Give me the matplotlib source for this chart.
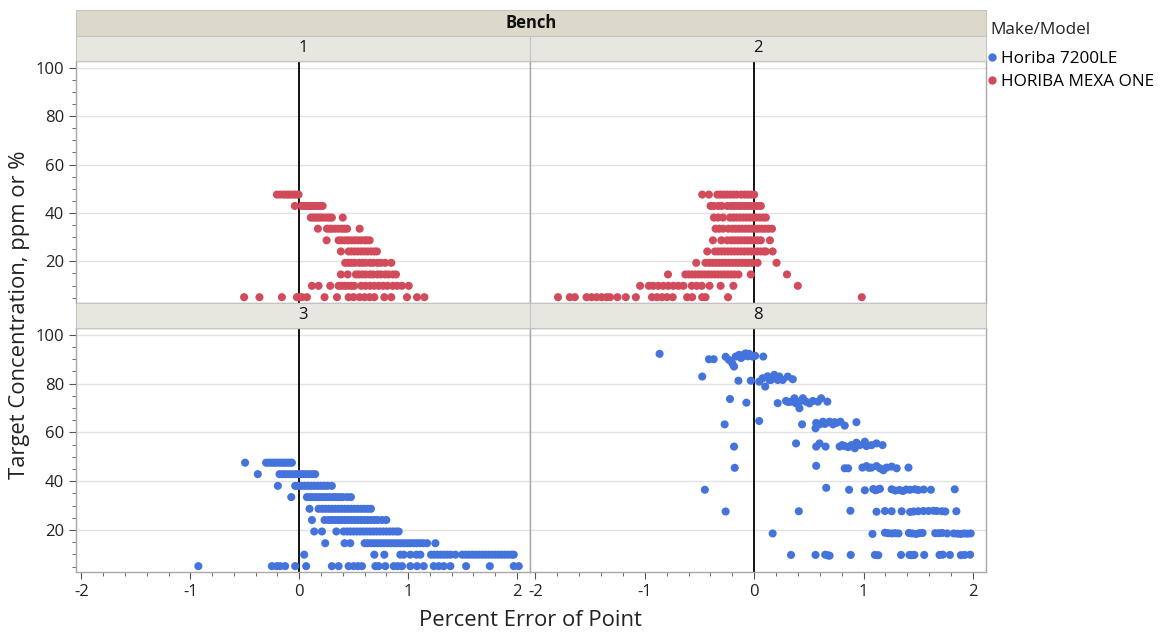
import matplotlib
matplotlib.use('Agg')
import matplotlib.pyplot as plt
from matplotlib.patches import Rectangle
from matplotlib.lines import Line2D
from matplotlib.ticker import MultipleLocator

plt.rcParams['font.family'] = ['Open Sans', 'DejaVu Sans']
plt.rcParams['axes.unicode_minus'] = False

blue = '#4573dc'
red = '#d24b5a'
models = ['Horiba 7200LE', 'HORIBA MEXA ONE']

# target levels used on benches 1, 2 and 3 (bottom to top)
levels = [5.2, 9.9, 14.6, 19.4, 24.1, 28.7, 33.5, 38.1, 42.9, 47.6]

# percent error of point, one list per target level
bench1_x = [
    [-0.506, -0.365, -0.159, -0.021, 0.0, 0.025, 0.071, 0.233, 0.347, 0.454, 0.5, 0.555, 0.601, 0.647, 0.69, 0.782, 0.846, 0.99, 1.082, 1.15],
    [0.117, 0.178, 0.285, 0.362, 0.39, 0.42, 0.45, 0.48, 0.506, 0.57, 0.61, 0.65, 0.69, 0.73, 0.77, 0.81, 0.86, 0.9, 0.944, 1.006],
    [0.383, 0.445, 0.521, 0.55, 0.58, 0.61, 0.65, 0.68, 0.72, 0.75, 0.79, 0.82, 0.86, 0.889],
    [0.423, 0.45, 0.48, 0.51, 0.55, 0.58, 0.61, 0.65, 0.68, 0.72, 0.75, 0.79, 0.846],
    [0.383, 0.454, 0.48, 0.51, 0.54, 0.57, 0.6, 0.63, 0.66, 0.69, 0.714],
    [0.252, 0.362, 0.39, 0.42, 0.45, 0.48, 0.51, 0.54, 0.57, 0.6, 0.62, 0.647],
    [0.172, 0.255, 0.28, 0.3, 0.33, 0.36, 0.39, 0.415, 0.44, 0.555],
    [0.107, 0.13, 0.15, 0.17, 0.19, 0.21, 0.235, 0.26, 0.28, 0.3, 0.4],
    [-0.04, 0.025, 0.05, 0.07, 0.09, 0.11, 0.13, 0.15, 0.17, 0.19, 0.215],
    [-0.205, -0.175, -0.144, -0.12, -0.098, -0.077, -0.052, -0.031, -0.006],
]

bench2_x = [
    [-1.794, -1.686, -1.64, -1.533, -1.487, -1.441, -1.395, -1.349, -1.318, -1.251, -1.174, -1.082, -0.935, -0.889, -0.843, -0.797, -0.745, -0.613, -0.567, -0.475, -0.445, -0.239, 0.984],
    [-1.043, -0.963, -0.923, -0.877, -0.831, -0.785, -0.739, -0.693, -0.647, -0.571, -0.525, -0.479, -0.408, -0.307, -0.19, 0.399],
    [-0.788, -0.629, -0.6, -0.57, -0.54, -0.51, -0.48, -0.45, -0.42, -0.39, -0.36, -0.33, -0.3, -0.27, -0.24, -0.21, -0.18, -0.144, -0.031, 0.3],
    [-0.53, -0.445, -0.41, -0.38, -0.35, -0.32, -0.29, -0.26, -0.23, -0.2, -0.17, -0.14, -0.11, -0.08, -0.05, -0.021, 0.031, 0.205],
    [-0.429, -0.359, -0.33, -0.3, -0.27, -0.24, -0.21, -0.18, -0.15, -0.12, -0.09, -0.06, -0.03, 0.0, 0.03, 0.06, 0.09, 0.107, 0.169],
    [-0.377, -0.3, -0.245, -0.21, -0.18, -0.15, -0.12, -0.09, -0.06, -0.03, 0.0, 0.03, 0.061, 0.144],
    [-0.353, -0.32, -0.285, -0.236, -0.2, -0.17, -0.14, -0.11, -0.08, -0.05, -0.02, 0.01, 0.04, 0.07, 0.1, 0.13, 0.163],
    [-0.368, -0.33, -0.285, -0.221, -0.19, -0.16, -0.13, -0.1, -0.07, -0.04, -0.01, 0.02, 0.05, 0.08, 0.107],
    [-0.399, -0.37, -0.33, -0.297, -0.245, -0.21, -0.18, -0.15, -0.12, -0.09, -0.06, -0.03, 0.0, 0.03, 0.061],
    [-0.475, -0.414, -0.337, -0.31, -0.28, -0.25, -0.22, -0.19, -0.16, -0.12, -0.09, -0.06, -0.03, 0.0],
]

bench3_x = [
    [-0.926, -0.251, -0.205, -0.175, -0.129, -0.037, 0.064, 0.3, 0.362, 0.454, 0.5, 0.54, 0.577, 0.7, 0.73, 0.791, 0.868, 0.905, 0.945, 1.021, 1.083, 1.144, 1.236, 1.282, 1.328, 1.389, 1.533, 1.751, 1.971, 2.017],
    [0.046, 0.69, 0.782, 0.929, 0.96, 1.021, 1.076, 1.113, 1.211, 1.24, 1.27, 1.3, 1.33, 1.36, 1.39, 1.435, 1.497, 1.53, 1.56, 1.59, 1.62, 1.65, 1.68, 1.71, 1.74, 1.77, 1.8, 1.83, 1.86, 1.89, 1.92, 1.95, 1.971],
    [0.239, 0.417, 0.469, 0.601, 0.63, 0.66, 0.69, 0.72, 0.75, 0.78, 0.81, 0.84, 0.87, 0.9, 0.93, 0.96, 0.99, 1.02, 1.05, 1.08, 1.11, 1.14, 1.175, 1.251],
    [0.138, 0.209, 0.341, 0.408, 0.44, 0.47, 0.5, 0.53, 0.56, 0.59, 0.62, 0.65, 0.68, 0.71, 0.74, 0.77, 0.8, 0.83, 0.86, 0.89, 0.914],
    [0.117, 0.233, 0.27, 0.3, 0.33, 0.36, 0.39, 0.42, 0.45, 0.48, 0.51, 0.54, 0.57, 0.6, 0.63, 0.66, 0.69, 0.72, 0.761, 0.8],
    [0.095, 0.178, 0.21, 0.24, 0.27, 0.3, 0.33, 0.36, 0.39, 0.42, 0.45, 0.48, 0.51, 0.54, 0.57, 0.6, 0.63, 0.659],
    [-0.073, 0.071, 0.1, 0.13, 0.16, 0.19, 0.22, 0.25, 0.28, 0.31, 0.34, 0.37, 0.4, 0.44, 0.475],
    [-0.196, -0.037, -0.01, 0.02, 0.05, 0.08, 0.11, 0.14, 0.17, 0.2, 0.23, 0.26, 0.3],
    [-0.38, -0.181, -0.15, -0.12, -0.09, -0.06, -0.03, 0.0, 0.03, 0.06, 0.09, 0.12, 0.147],
    [-0.497, -0.304, -0.28, -0.26, -0.24, -0.22, -0.2, -0.18, -0.16, -0.14, -0.12, -0.1, -0.08, -0.067],
]

# bench 8 has its own levels and some spread in the measured concentration
bench8_x = [
    [0.337, 0.561, 0.65, 0.675, 0.69, 0.883, 1.104, 1.135, 1.343, 1.42, 1.44, 1.465, 1.555, 1.695, 1.725, 1.79, 1.89, 1.925, 1.975],
    [0.169, 1.082, 1.196, 1.225, 1.26, 1.29, 1.32, 1.415, 1.445, 1.48, 1.51, 1.54, 1.656, 1.69, 1.72, 1.765, 1.825, 1.86, 1.89, 1.92, 1.95, 1.98],
    [-0.261, 0.408, 0.88, 1.119, 1.196, 1.257, 1.349, 1.426, 1.457, 1.5, 1.549, 1.595, 1.641, 1.671, 1.717, 1.748, 1.849],
    [-0.451, 0.659, 0.868, 1.012, 1.089, 1.11, 1.13, 1.15, 1.257, 1.29, 1.33, 1.36, 1.39, 1.426, 1.47, 1.5, 1.55, 1.616, 1.834],
    [-0.178, 0.567, 0.828, 0.859, 0.99, 1.027, 1.05, 1.073, 1.119, 1.15, 1.181, 1.211, 1.257, 1.303, 1.411],
    [-0.184, 0.383, 0.567, 0.598, 0.653, 0.782, 0.805, 0.828, 0.859, 0.889, 0.92, 0.935, 0.966, 1.012, 1.027, 1.073, 1.119, 1.174],
    [-0.27, 0.046, 0.438, 0.561, 0.567, 0.598, 0.629, 0.645, 0.66, 0.69, 0.721, 0.735, 0.752, 0.788, 0.828, 0.935],
    [-0.221, -0.071, 0.215, 0.291, 0.31, 0.337, 0.368, 0.38, 0.399, 0.414, 0.43, 0.445, 0.475, 0.506, 0.537, 0.583, 0.613, 0.669],
    [-0.475, -0.144, -0.031, 0.046, 0.077, 0.101, 0.123, 0.14, 0.153, 0.17, 0.184, 0.199, 0.215, 0.23, 0.261, 0.307, 0.353],
    [-0.865, -0.414, -0.37, -0.261, -0.23, -0.2, -0.184, -0.169, -0.138, -0.12, -0.107, -0.09, -0.077, -0.06, -0.046, -0.03, -0.015, 0.009, 0.083],
]
bench8_y = [
    [9.8, 9.8, 9.9, 9.6, 9.5, 9.8, 9.8, 9.7, 9.8, 9.8, 9.7, 9.8, 9.8, 9.8, 9.9, 9.8, 9.7, 9.8, 9.9],
    [18.6, 18.4, 18.9, 18.7, 18.6, 18.7, 18.6, 18.8, 18.6, 18.4, 18.7, 18.8, 18.7, 18.7, 18.8, 18.6, 18.6, 18.5, 18.4, 18.6, 18.5, 18.6],
    [27.6, 27.7, 27.9, 27.5, 27.8, 27.7, 27.7, 27.4, 27.6, 27.7, 27.8, 27.8, 27.9, 27.8, 27.7, 27.6, 27.7],
    [36.5, 37.3, 36.5, 36.3, 36.8, 36.3, 36.6, 36.9, 36.7, 36.2, 36.4, 36.0, 36.6, 36.5, 36.7, 36.4, 36.6, 36.5, 36.7],
    [45.5, 46.3, 45.3, 45.3, 45.6, 46.2, 45.5, 45.6, 46.2, 45.3, 44.5, 45.6, 46.0, 45.3, 45.6],
    [54.2, 55.5, 54.2, 55.5, 54.2, 54.2, 54.8, 54.4, 54.0, 54.8, 53.5, 55.8, 54.8, 56.2, 54.4, 54.8, 55.5, 54.8],
    [63.3, 64.7, 63.3, 61.7, 63.9, 63.3, 64.4, 63.5, 63.9, 64.4, 63.3, 64.2, 63.9, 64.4, 62.8, 64.2],
    [73.7, 72.2, 72.0, 72.9, 72.5, 72.6, 74.0, 72.0, 71.9, 69.9, 73.0, 74.0, 72.6, 71.9, 72.9, 72.6, 74.0, 72.6],
    [82.9, 81.2, 81.2, 80.8, 82.2, 78.8, 83.0, 81.5, 81.5, 82.5, 83.6, 82.2, 81.5, 82.9, 81.5, 82.9, 81.8],
    [92.2, 90.0, 90.0, 91.0, 89.7, 88.3, 87.0, 91.1, 91.8, 90.5, 91.1, 92.0, 92.4, 91.2, 92.2, 91.5, 91.1, 91.4, 91.1],
]

W, H = 1167, 633
fig = plt.figure(figsize=(W / 100, H / 100), dpi=100)


def box(x0, y0, x1, y1):
    # pixel box (top-left origin) -> figure fraction rect
    return [x0 / W, 1 - y1 / H, (x1 - x0) / W, (y1 - y0) / H]


def strip(x0, y0, x1, y1, color, text, bold=False):
    fig.add_artist(Rectangle((x0 / W, 1 - y1 / H), (x1 - x0) / W, (y1 - y0) / H,
                             transform=fig.transFigure, facecolor=color,
                             edgecolor='#c4c4c0', lw=0.8))
    fig.text((x0 + x1) / 2 / W, 1 - (y0 + y1) / 2 / H, text, ha='center', va='center',
             fontsize=12, fontweight='bold' if bold else 'normal', color='#111111')


panels = [
    ('1', box(76, 61, 530, 303), red, True, False),
    ('2', box(530, 61, 986, 303), red, False, False),
    ('3', box(76, 328, 530, 572), blue, True, True),
    ('8', box(530, 328, 986, 572), blue, False, True),
]

axes = {}
for name, rect, color, show_y, show_x in panels:
    ax = fig.add_axes(rect)
    axes[name] = ax
    ax.set_xlim(-2.05, 2.12)
    ax.set_ylim(2.8, 102.8)
    for v in [20, 40, 60, 80, 100]:
        ax.axhline(v, color='#e2e2e2', lw=1, zorder=0)
    ax.axvline(0, color='black', lw=1.3, zorder=2)
    for s in ax.spines.values():
        s.set_color('#a8a8a8')
        s.set_linewidth(1)
    ax.yaxis.set_major_locator(MultipleLocator(20))
    ax.yaxis.set_minor_locator(MultipleLocator(5))
    ax.xaxis.set_major_locator(MultipleLocator(1))
    ax.xaxis.set_minor_locator(MultipleLocator(0.2))
    ax.tick_params(which='both', direction='out', colors='#555555', labelcolor='#222222', labelsize=12)
    ax.tick_params(which='major', length=5)
    ax.tick_params(which='minor', length=3)
    if not show_y:
        ax.tick_params(axis='y', which='both', left=False, labelleft=False)
    if not show_x:
        ax.tick_params(axis='x', which='both', bottom=False, labelbottom=False)

for xs, lev in zip(bench1_x, levels):
    axes['1'].scatter(xs, [lev] * len(xs), s=34, color=red, edgecolors='none', zorder=3)
for xs, lev in zip(bench2_x, levels):
    axes['2'].scatter(xs, [lev] * len(xs), s=34, color=red, edgecolors='none', zorder=3)
for xs, lev in zip(bench3_x, levels):
    axes['3'].scatter(xs, [lev] * len(xs), s=34, color=blue, edgecolors='none', zorder=3)
for xs, ys in zip(bench8_x, bench8_y):
    axes['8'].scatter(xs, ys, s=34, color=blue, edgecolors='none', zorder=3)

# facet strips
strip(76, 10, 986, 36, '#dcd9ca', 'Bench', bold=True)
strip(76, 36, 530, 61, '#e8e7df', '1')
strip(530, 36, 986, 61, '#e8e7df', '2')
strip(76, 303, 530, 328, '#e8e7df', '3')
strip(530, 303, 986, 328, '#e8e7df', '8')

fig.text(20 / W, 1 - 315 / H, 'Target Concentration, ppm or %', rotation=90,
         ha='center', va='center', fontsize=15.8, color='#222222')
fig.text(530 / W, 1 - 620 / H, 'Percent Error of Point', ha='center', va='center',
         fontsize=15.8, color='#222222')

# legend
fig.text(990 / W, 1 - 30 / H, 'Make/Model', ha='left', va='center', fontsize=12.3, color='#222222')
handles = [Line2D([], [], marker='o', ls='', color=blue, markersize=5),
           Line2D([], [], marker='o', ls='', color=red, markersize=5)]
fig.legend(handles, models, loc='upper left',
           bbox_to_anchor=(988 / W, 1 - 51 / H), frameon=False, fontsize=12.3,
           handlelength=0.5, handletextpad=0.25,
           labelspacing=0.4, borderaxespad=0, borderpad=0)

fig.savefig('out.png', dpi=100)
